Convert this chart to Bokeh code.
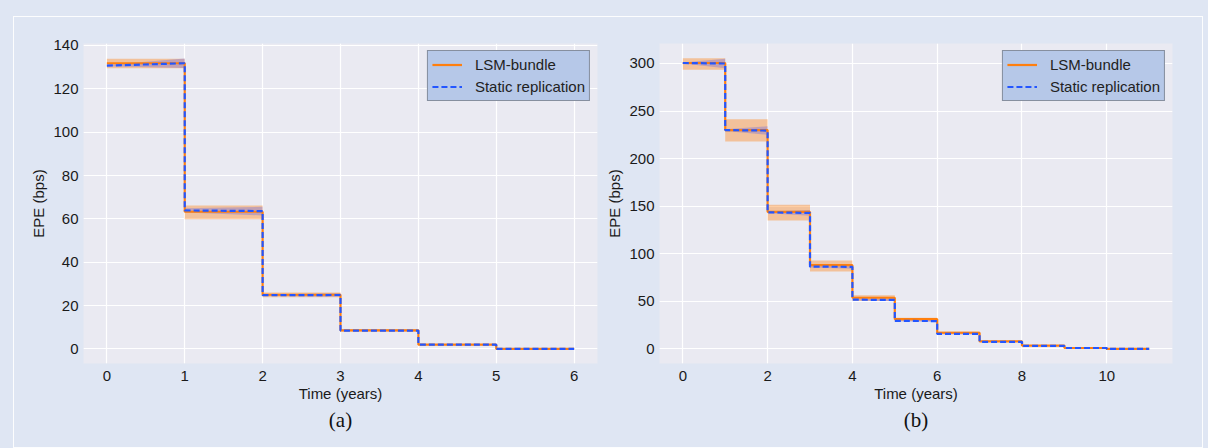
from bokeh.plotting import figure
from bokeh.layouts import row
from bokeh.models import (Range1d, FixedTicker, Legend, LegendItem, Title,
                          InlineStyleSheet)
from bokeh.embed import file_html
from bokeh.resources import INLINE

# ---------------- data ----------------
# panel (a): 6-year horizon, one segment per year
t_a = [0, 1, 2, 3, 4, 5, 6]
lsm_a = [131.8, 63.3, 25.0, 8.6, 2.0, 0.0]
lsm_a_lo = [129.5, 59.8, 23.9, 8.1, 1.7, -0.1]
lsm_a_hi = [133.9, 66.2, 26.1, 9.1, 2.3, 0.1]
static_a_start = [130.7, 63.9, 24.8, 8.5, 2.0, 0.0]
static_a_end = [131.8, 63.6, 24.9, 8.5, 2.0, 0.0]
static_a_w_start = [0.3, 1.0, 0.3, 0.1, 0.05, 0.0]
static_a_w_end = [2.2, 2.0, 0.8, 0.3, 0.1, 0.0]

# panel (b): 11-year horizon
t_b = [0, 1, 2, 3, 4, 5, 6, 7, 8, 9, 10, 11]
lsm_b = [300.5, 230.0, 144.0, 88.0, 53.8, 31.3, 17.0, 8.0, 3.5, 1.0, 0.0]
lsm_b_lo = [293.5, 218.0, 135.0, 81.5, 50.5, 29.0, 15.5, 7.2, 3.0, 0.7, -0.1]
lsm_b_hi = [305.5, 241.5, 151.5, 93.0, 56.5, 32.8, 18.3, 8.8, 4.0, 1.3, 0.2]
static_b_start = [300.5, 230.0, 143.5, 86.5, 51.8, 29.5, 15.8, 7.5, 3.3, 1.0, 0.0]
static_b_end = [300.0, 229.5, 143.0, 86.3, 51.5, 29.3, 15.8, 7.5, 3.2, 1.0, 0.0]
static_b_w_start = [0.5, 1.0, 1.0, 0.8, 0.5, 0.4, 0.3, 0.2, 0.1, 0.05, 0.0]
static_b_w_end = [5.0, 4.5, 3.0, 2.0, 1.5, 1.0, 0.6, 0.3, 0.2, 0.1, 0.0]

xticks_a = [0, 1, 2, 3, 4, 5, 6]
yticks_a = [0, 20, 40, 60, 80, 100, 120, 140]
xticks_b = [0, 2, 4, 6, 8, 10]
yticks_b = [0, 50, 100, 150, 200, 250, 300]

ORANGE = "#ff7f0e"
BLUE = "#2356ff"
PAGE_BG = "#dfe6f3"
PLOT_BG = "#eaeaf2"
FONT = "Liberation Sans"


def step_xy(t, ys, ye):
    xs, yv = [], []
    for i in range(len(ys)):
        xs += [t[i], t[i + 1]]
        yv += [ys[i], ye[i]]
    return xs, yv


def panel(t, lsm, lo, hi, s0, s1, w0, w1, xticks, yticks, xr, yr,
          width, mb_left, mb_right, mb_top, mb_bottom, caption):
    p = figure(width=width, height=448, output_backend="svg",
               toolbar_location=None, title=None,
               x_range=Range1d(*xr), y_range=Range1d(*yr),
               min_border_left=mb_left, min_border_right=mb_right,
               min_border_top=mb_top, min_border_bottom=mb_bottom)
    p.border_fill_color = PAGE_BG
    p.background_fill_color = PLOT_BG
    p.outline_line_color = None

    x_l, y_l = step_xy(t, lsm, lsm)
    _, y_lo = step_xy(t, lo, lo)
    _, y_hi = step_xy(t, hi, hi)
    x_s, y_s = step_xy(t, s0, s1)
    _, y_slo = step_xy(t, [a - b for a, b in zip(s0, w0)],
                       [a - b for a, b in zip(s1, w1)])
    _, y_shi = step_xy(t, [a + b for a, b in zip(s0, w0)],
                       [a + b for a, b in zip(s1, w1)])

    p.varea(x=x_l, y1=y_lo, y2=y_hi, fill_color=ORANGE, fill_alpha=0.38)
    p.varea(x=x_s, y1=y_slo, y2=y_shi, fill_color="#3040ff", fill_alpha=0.25)
    r1 = p.line(x_l, y_l, line_color=ORANGE, line_width=2.2)
    r2 = p.line(x_s, y_s, line_color=BLUE, line_width=2.2, line_dash="6 3")

    for ax in (p.xaxis[0], p.yaxis[0]):
        ax.axis_line_color = None
        ax.major_tick_line_color = None
        ax.minor_tick_line_color = None
        ax.major_tick_out = 0
        ax.major_tick_in = 0
        ax.minor_tick_out = 0
        ax.minor_tick_in = 0
        ax.major_label_text_font = FONT
        ax.major_label_text_font_size = "15px"
        ax.major_label_text_color = "#1a1a1a"
        ax.axis_label_text_font = FONT
        ax.axis_label_text_font_size = "15px"
        ax.axis_label_text_font_style = "normal"
        ax.axis_label_text_color = "#1a1a1a"
    p.xaxis.ticker = FixedTicker(ticks=xticks)
    p.yaxis.ticker = FixedTicker(ticks=yticks)
    p.xaxis.axis_label = "Time (years)"
    p.yaxis.axis_label = "EPE (bps)"
    p.xaxis.major_label_standoff = 7
    p.yaxis.major_label_standoff = 5
    p.xaxis.axis_label_standoff = 1
    p.yaxis.axis_label_standoff = 3
    p.grid.grid_line_color = "white"
    p.grid.grid_line_width = 1.2

    legend = Legend(items=[LegendItem(label="LSM-bundle", renderers=[r1]),
                           LegendItem(label="Static replication", renderers=[r2])],
                    location="top_right")
    legend.background_fill_color = "#b6c8e8"
    legend.background_fill_alpha = 1.0
    legend.border_line_color = "#555555"
    legend.border_line_width = 1
    legend.label_text_font = FONT
    legend.label_text_font_size = "15px"
    legend.label_text_color = "#222222"
    legend.glyph_width = 30
    legend.glyph_height = 19
    legend.label_height = 19
    legend.label_standoff = 13
    legend.padding = 4
    legend.spacing = 3
    legend.margin = 7
    p.add_layout(legend)

    cap = Title(text=caption, align="center", text_font="Liberation Serif",
                text_font_size="21px", text_font_style="normal",
                text_color="#111111", standoff=2)
    p.add_layout(cap, "below")
    return p


pa = panel(t_a, lsm_a, lsm_a_lo, lsm_a_hi, static_a_start, static_a_end,
           static_a_w_start, static_a_w_end, xticks_a, yticks_a,
           (-0.3, 6.3), (-6.7, 140.9), 600, 83, 3, 43, 82, "(a)")
pb = panel(t_b, lsm_b, lsm_b_lo, lsm_b_hi, static_b_start, static_b_end,
           static_b_w_start, static_b_w_end, xticks_b, yticks_b,
           (-0.55, 11.55), (-15.3, 321.0), 608, 59, 36, 38, 85, "(b)")

frame_css = InlineStyleSheet(css="""
:host { position: relative; }
:host::after {
  content: '';
  position: absolute;
  left: 13px; top: 16px; width: 1188px; height: 430px;
  border: 1px solid rgba(255,255,255,0.9);
  pointer-events: none;
  z-index: 50;
}
""")

layout = row(pa, pb, styles={"background-color": PAGE_BG},
             stylesheets=[frame_css])
open("out.html", "w").write(file_html(layout, INLINE))
